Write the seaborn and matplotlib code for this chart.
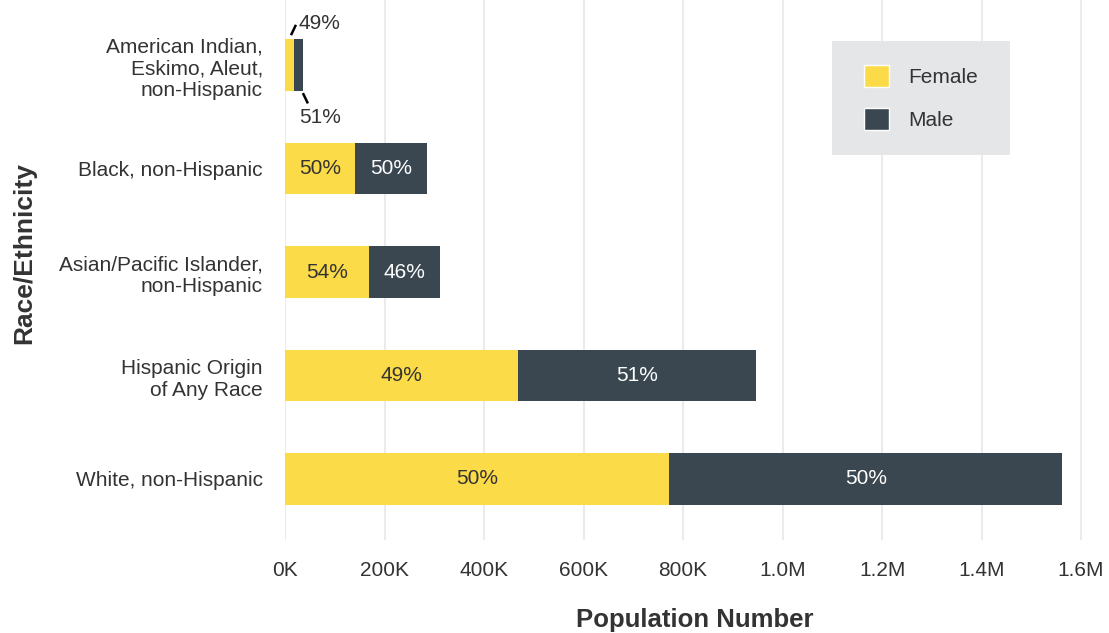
import matplotlib
matplotlib.use('Agg')
import matplotlib.pyplot as plt
from matplotlib.patches import Patch, Rectangle
import numpy as np
import pandas as pd
import seaborn as sns

#%% Dados
categorias = ['American Indian,\nEskimo, Aleut,\nnon-Hispanic',
              'Black, non-Hispanic',
              'Asian/Pacific Islander,\nnon-Hispanic',
              'Hispanic Origin\nof Any Race',
              'White, non-Hispanic']
feminino = [18000, 141000, 169000, 468000, 772000]
masculino = [19000, 144000, 143000, 479000, 790000]
rotulos_fem = ['49%', '50%', '54%', '49%', '50%']
rotulos_masc = ['51%', '50%', '46%', '51%', '50%']
xticks = [0, 200000, 400000, 600000, 800000, 1000000, 1200000, 1400000, 1600000]
xtick_labels = ['0K', '200K', '400K', '600K', '800K', '1.0M', '1.2M', '1.4M', '1.6M']

cor_fem = '#FBDB48'
cor_masc = '#3A4750'
cor_texto = '#333333'

df = pd.DataFrame({'cat': categorias, 'Female': feminino, 'Male': masculino})
df['total'] = df['Female'] + df['Male']

#%% Figura
sns.set_style('white')
plt.rcParams['font.family'] = ['Liberation Sans', 'DejaVu Sans']

fig = plt.figure(figsize=(11.09, 6.33), dpi=100)
ax = fig.add_axes([285 / 1109, 93 / 633, 820 / 1109, 540 / 633])

# barra total (masculino) e por cima a feminina
sns.barplot(data=df, x='total', y='cat', color=cor_masc, width=0.5,
            saturation=1, linewidth=0, ax=ax, orient='h')
sns.barplot(data=df, x='Female', y='cat', color=cor_fem, width=0.5,
            saturation=1, linewidth=0, ax=ax, orient='h')

ax.set_xlim(0, 1648000)
ax.set_ylim(4.59, -0.63)
ax.set_xticks(xticks)
ax.set_xticklabels(xtick_labels)
ax.grid(axis='x', color='#EBEBEB', linewidth=1.5)
ax.set_axisbelow(True)
for s in ax.spines.values():
    s.set_visible(False)
ax.tick_params(axis='both', length=0, labelsize=15, colors=cor_texto)
ax.tick_params(axis='x', pad=15)
ax.tick_params(axis='y', pad=16)

ax.set_xlabel('Population Number', fontsize=18.5, fontweight='bold',
              color=cor_texto, labelpad=20)
ax.set_ylabel('Race/Ethnicity', fontsize=19, fontweight='bold',
              color=cor_texto)
ax.yaxis.set_label_coords(-0.303, 0.532)

# rótulos das porcentagens
for i, (f, m) in enumerate(zip(feminino, masculino)):
    if i == 0:
        # barra pequena: rótulos fora com linha guia
        ax.plot([f * 0.67, f * 1.22], [i - 0.29, i - 0.39], color='black', lw=1.8,
                solid_capstyle='butt')
        ax.text(f + 10000, i - 0.40, rotulos_fem[i], fontsize=15, color=cor_texto,
                va='center', ha='left')
        ax.plot([f + m - 1000, f + m + 9000], [i + 0.27, i + 0.37], color='black',
                lw=1.8, solid_capstyle='butt')
        ax.text(f + 10000, i + 0.51, rotulos_masc[i], fontsize=15, color=cor_texto,
                va='center', ha='left')
        continue
    ax.text(f / 2, i, rotulos_fem[i], ha='center', va='center',
            fontsize=15, color=cor_texto)
    ax.text(f + m / 2, i, rotulos_masc[i], ha='center', va='center',
            fontsize=15, color='white')

# legenda: caixa cinza de fundo + legenda sem moldura
fig.patches.append(Rectangle((832 / 1109, 1 - 155 / 633), 178 / 1109, 114 / 633,
                             transform=fig.transFigure, facecolor='#E5E6E8',
                             edgecolor='none', zorder=1))
handles = [Patch(facecolor=cor_fem, label='Female'),
           Patch(facecolor=cor_masc, label='Male')]
leg = fig.legend(handles=handles, loc='upper left',
                 bbox_to_anchor=(864 / 1109, 1 - 65.5 / 633), borderaxespad=0,
                 frameon=False, fontsize=15,
                 handlelength=1.2, handleheight=1.2, handletextpad=0.9,
                 labelspacing=1.02, borderpad=0)
for t in leg.get_texts():
    t.set_color(cor_texto)

fig.savefig('out.png', dpi=100)
